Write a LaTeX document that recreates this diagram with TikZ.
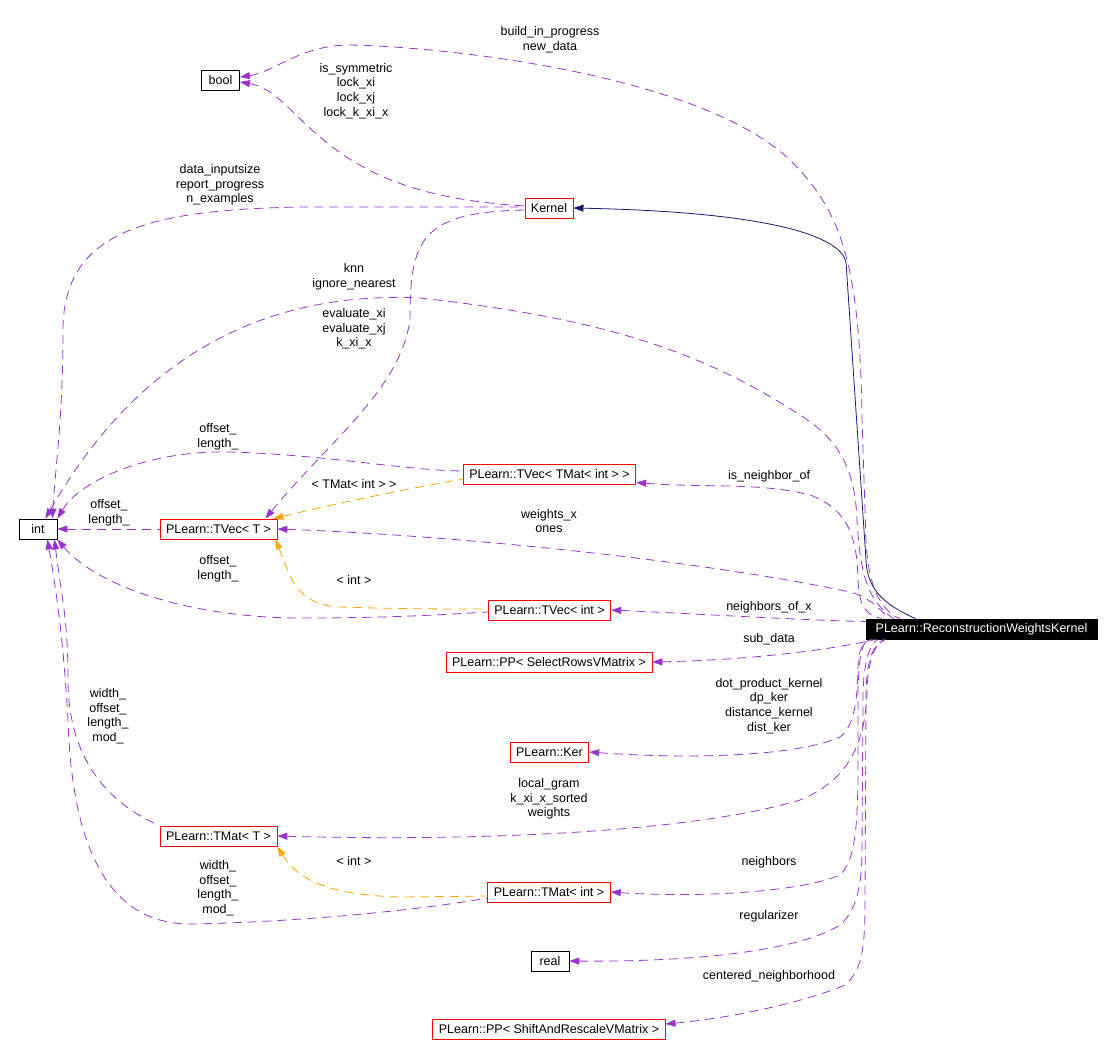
\documentclass[tikz,border=0pt]{standalone}
\usepackage{fontspec}
\setmainfont{Liberation Sans}
\usetikzlibrary{arrows.meta}
\definecolor{usecol}{HTML}{9A32CD}
\definecolor{inhcol}{HTML}{191970}
\definecolor{tplcol}{HTML}{FFA500}
\tikzset{
  cls/.style={draw=red, line width=0.8pt, minimum width=38pt, minimum height=20pt, inner xsep=6pt, inner ysep=0pt},
  plain/.style={cls, draw=black},
  focus/.style={cls, draw=black, fill=black, text=white, minimum width=231pt},
  lbl/.style={align=center, inner sep=0pt},
  usage/.style={draw=usecol, line width=0.8pt, dash pattern=on 9pt off 6pt, >={Triangle[length=10pt,width=7pt]}, <-},
  tmpl/.style={usage, draw=tplcol},
  inherit/.style={draw=inhcol, line width=0.8pt, >={Triangle[length=10pt,width=7pt]}, <-}
}

\begin{document}
\begin{tikzpicture}[x=1pt, y=-1pt, font=\fontsize{12.5}{14.6}\selectfont]
  \useasboundingbox (0,0) rectangle (1113,1058);

  \node[focus] (rwk) at (981.5,629) {PLearn::ReconstructionWeightsKernel};
  \node[plain] (bool) at (220.5,80) {bool};
  \node[cls] (kernel) at (549,208) {Kernel};
  \node[plain] (int) at (38,529) {int};
  \node[cls] (tvecT) at (218.5,529) {PLearn::TVec< T >};
  \node[cls] (tvecTM) at (549.5,474) {PLearn::TVec< TMat< int > >};
  \node[cls] (tvecI) at (549.5,610) {PLearn::TVec< int >};
  \node[cls] (selrows) at (549,662) {PLearn::PP< SelectRowsVMatrix >};
  \node[cls] (ker) at (549.5,752) {PLearn::Ker};
  \node[cls] (tmatT) at (218.5,836) {PLearn::TMat< T >};
  \node[cls] (tmatI) at (549,892) {PLearn::TMat< int >};
  \node[plain] (real) at (550,961) {real};
  \node[cls] (sar) at (549,1029) {PLearn::PP< ShiftAndRescaleVMatrix >};

  % inheritance
  \draw[inherit] (kernel.east) .. controls (770,212) and (840,236) .. (846,262) -- (866,560) .. controls (867,590) and (885,605) .. ([xshift=50pt]rwk.north west);

  % usage, top part
  \draw[usage] ([yshift=3pt]bool.east) .. controls (275,72) and (300,45) .. (350,45) .. controls (450,47) and (700,75) .. (790,160) .. controls (840,210) and (860,260) .. (862,420) -- (866,540) .. controls (868,585) and (880,610) .. ([xshift=34pt]rwk.north west);
  \draw[usage] ([yshift=-2pt]bool.east) .. controls (275,88) and (290,112) .. (320,137) .. controls (370,180) and (430,200) .. ([yshift=2pt]kernel.west);
  \draw[usage] ([xshift=-5pt]int.north east) .. controls (55,470) and (63,420) .. (63,330) .. controls (63,230) and (150,210) .. (300,207) -- ([yshift=1pt]kernel.west);
  \draw[usage] ([xshift=-12pt]tvecT.north east) .. controls (330,440) and (400,390) .. (410,320) .. controls (410,240) and (420,212) .. ([yshift=-2pt]kernel.west);
  \draw[usage] ([xshift=-12pt]int.north east) .. controls (130,370) and (250,290) .. (420,298) .. controls (600,318) and (700,350) .. (800,415) .. controls (840,440) and (855,470) .. (857,520) .. controls (860,570) and (866,600) .. ([xshift=28pt]rwk.north west);
  \draw[usage] (int.north east) .. controls (80,480) and (150,450) .. (230,452) .. controls (330,455) and (400,470) .. ([yshift=3pt]tvecTM.west);
  \draw[usage] (int.east) -- (tvecT.west);
  \draw[tmpl] ([xshift=-4pt]tvecT.north east) .. controls (330,505) and (400,490) .. ([yshift=-5pt]tvecTM.west);
  \draw[usage] (tvecT.east) .. controls (450,535) and (700,560) .. (850,592) .. controls (870,597) and (880,610) .. ([xshift=24pt]rwk.north west);
  \draw[usage] (int.south east) .. controls (100,590) and (200,618) .. (300,618) .. controls (400,618) and (450,614) .. ([yshift=-2pt]tvecI.west);
  \draw[tmpl] ([xshift=-2pt]tvecT.south east) .. controls (290,575) and (295,605) .. (340,607) .. controls (400,609) and (450,609) .. ([yshift=1pt]tvecI.west);
  \draw[usage] ([yshift=2pt]tvecTM.south east) .. controls (700,488) and (760,482) .. (810,495) .. controls (850,510) and (857,540) .. (858,580) .. controls (859,605) and (865,615) .. ([xshift=16pt]rwk.north west);
  \draw[usage] (tvecI.east) .. controls (700,614) and (800,620) .. ([yshift=-3pt]rwk.north west);

  % usage, bottom part
  \draw[usage] (selrows.east) .. controls (750,660) and (830,650) .. ([xshift=10pt]rwk.south west);
  \draw[usage] (ker.east) .. controls (700,760) and (800,755) .. (840,737) .. controls (855,725) and (857,700) .. (858,670) .. controls (858,650) and (862,642) .. ([xshift=6pt]rwk.south west);
  \draw[usage] (tmatT.east) .. controls (500,842) and (700,830) .. (800,800) .. controls (850,780) and (866,740) .. (867,690) .. controls (868,660) and (875,645) .. ([xshift=18pt]rwk.south west);
  \draw[usage] ([xshift=-3pt]int.south east) .. controls (62,600) and (68,620) .. (68,680) .. controls (68,750) and (100,800) .. (tmatT.north west);
  \draw[usage] ([xshift=-10pt]int.south east) .. controls (58,600) and (64,650) .. (68,720) .. controls (72,850) and (110,924) .. (190,924) .. controls (300,922) and (420,910) .. ([yshift=-6pt]tmatI.west);
  \draw[tmpl] (tmatT.south east) .. controls (295,875) and (320,895) .. (400,897) -- ([yshift=-4pt]tmatI.west);
  \draw[usage] (tmatI.east) .. controls (700,898) and (800,892) .. (840,875) .. controls (855,860) and (857,830) .. (858,780) -- (858,690) .. controls (859,655) and (862,645) .. ([xshift=2pt]rwk.south west);
  \draw[usage] (real.east) .. controls (700,962) and (800,950) .. (840,925) .. controls (858,910) and (862,880) .. (862,850) -- (863,700) .. controls (863,660) and (870,645) .. ([xshift=12pt]rwk.south west);
  \draw[usage] ([yshift=5pt]sar.east) .. controls (740,1017) and (810,1000) .. (845,985) .. controls (862,970) and (865,950) .. (865,900) -- (866,700) .. controls (866,660) and (872,645) .. ([xshift=20pt]rwk.south west);

  % edge labels
  \node[lbl] (l1) at (550,40) {build\_in\_progress\\new\_data};
  \node[lbl] (l2) at (356,91) {is\_symmetric\\lock\_xi\\lock\_xj\\lock\_k\_xi\_x};
  \node[lbl] (l3) at (220,185) {data\_inputsize\\report\_progress\\n\_examples};
  \node[lbl] (l4) at (354,277) {knn\\ignore\_nearest};
  \node[lbl] (l5) at (354,329) {evaluate\_xi\\evaluate\_xj\\k\_xi\_x};
  \node[lbl] (l6) at (218,437) {offset\_\\length\_};
  \node[lbl] (l7) at (109,513) {offset\_\\length\_};
  \node[lbl] (l8) at (354,484) {< TMat< int > >};
  \node[lbl] (l9) at (549,521) {weights\_x\\ones};
  \node[lbl] (l10) at (218,569) {offset\_\\length\_};
  \node[lbl] (l11) at (354,580) {< int >};
  \node[lbl] (l12) at (769,476) {is\_neighbor\_of};
  \node[lbl] (l13) at (769,607) {neighbors\_of\_x};
  \node[lbl] (l14) at (769,639) {sub\_data};
  \node[lbl] (l15) at (769,706) {dot\_product\_kernel\\dp\_ker\\distance\_kernel\\dist\_ker};
  \node[lbl] (l16) at (108,716) {width\_\\offset\_\\length\_\\mod\_};
  \node[lbl] (l17) at (549,799) {local\_gram\\k\_xi\_x\_sorted\\weights};
  \node[lbl] (l18) at (354,861) {< int >};
  \node[lbl] (l19) at (769,862) {neighbors};
  \node[lbl] (l20) at (218,888) {width\_\\offset\_\\length\_\\mod\_};
  \node[lbl] (l21) at (769,916) {regularizer};
  \node[lbl] (l22) at (769,976) {centered\_neighborhood};
\end{tikzpicture}
\end{document}
